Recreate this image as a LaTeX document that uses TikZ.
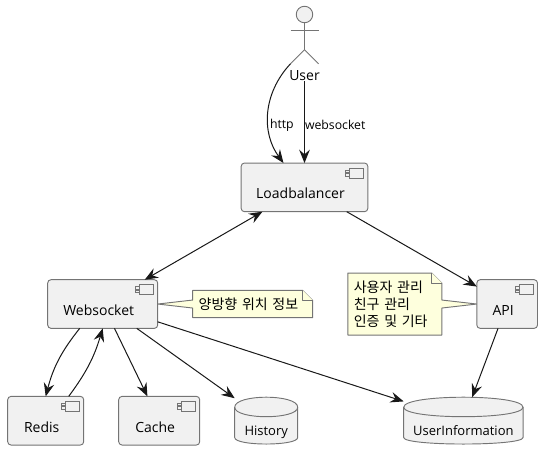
\documentclass[tikz,border=0pt]{standalone}
\usepackage{fontspec}
\setmainfont{Open Sans}
\newfontfamily\krfont{Noto Sans CJK KR}
\usepackage{tikz}
\usetikzlibrary{arrows.meta, positioning, calc, backgrounds}
\definecolor{boxfill}{HTML}{F1F1F1}
\definecolor{boxline}{HTML}{747474}
\definecolor{notefill}{HTML}{FEFFDD}
\definecolor{linkline}{HTML}{181818}

\begin{document}
\begin{tikzpicture}[
      x=0.75pt, y=-0.75pt,
      font=\fontsize{10.5}{13}\selectfont,
      every node/.style={outer sep=0pt},
      outline/.style={draw=boxline, line width=0.7pt},
      comp/.style={rectangle, outline, fill=boxfill, rounded corners=2.5pt, inner sep=0pt, minimum height=36.5pt,
        text height=17pt, text depth=0pt, execute at end node={\kern6pt}},
      store/.style={rectangle, inner sep=0pt, minimum height=35.25pt,
        font=\fontsize{9.75}{12}\selectfont, text height=22.5pt, text depth=0pt,
        append after command={\pgfextra{
          \draw[outline, fill=boxfill]
            ([yshift=-7.5pt]\tikzlastnode.north west)
              .. controls ([yshift=2.5pt]\tikzlastnode.north west) and ([yshift=2.5pt]\tikzlastnode.north east)
              .. ([yshift=-7.5pt]\tikzlastnode.north east)
              -- ([yshift=5pt]\tikzlastnode.south east)
              .. controls ([yshift=-1.5pt]\tikzlastnode.south east) and ([yshift=-1.5pt]\tikzlastnode.south west)
              .. ([yshift=5pt]\tikzlastnode.south west) -- cycle;
          \draw[outline]
            ([yshift=-7.5pt]\tikzlastnode.north west)
              .. controls ([yshift=-17pt]\tikzlastnode.north west) and ([yshift=-17pt]\tikzlastnode.north east)
              .. ([yshift=-7.5pt]\tikzlastnode.north east);
        }}},
      notetext/.style={rectangle, inner ysep=0pt, inner xsep=4.5pt, align=left, font=\krfont\fontsize{10.5}{12.75}\selectfont},
      notebody/.style={outline, fill=notefill, line join=round},
      icon/.style={draw=boxline, line width=0.6pt},
      arrow/.style={-{Stealth[length=10pt, width=8pt, inset=3.5pt]}, draw=linkline, line width=0.75pt},
      twoway/.style={{Stealth[length=10pt, width=8pt, inset=3.5pt]}-{Stealth[length=10pt, width=8pt, inset=3.5pt]}, draw=linkline, line width=0.75pt},
      edgelabel/.style={font=\fontsize{9.2}{11}\selectfont, inner sep=0pt}
    ]

    \useasboundingbox (0,0) rectangle (542,460);

    % Actor
    \node[circle, outline, fill=boxfill, minimum size=12.4pt, inner sep=0pt] (user) at (304.5,14.5) {};
    \draw[outline] (user.south) -- ++(0,27) coordinate (hip);
    \draw[outline] ($(user.south)+(-14,7.5)$) -- ($(user.south)+(14,7.5)$);
    \draw[outline] (hip) -- ++(-14,14) coordinate (footleft);
    \draw[outline] (hip) -- ++(14,14);
    \node[inner sep=0pt, below=36pt of user] (userlabel) {User};

    % Row 1
    \node[comp, minimum width=95pt, below=105.2pt of user] (lb) {Loadbalancer};

    % Row 2
    \node[comp, minimum width=82.5pt, below left=51pt and 62.6pt of lb] (ws) {Websocket};
    \node[comp, minimum width=45.5pt, below right=51pt and 81.75pt of lb] (api) {API};
    \node[notetext, text width=81pt, minimum height=20.5pt, right=26.25pt of ws] (wsnote) {양방향 위치 정보};
    \node[notetext, text width=61.5pt, minimum height=46.5pt, left=26.25pt of api] (apinote) {사용자 관리\\친구 관리\\인증 및 기타};

    % Row 3
    \node[comp, minimum width=57pt, below=51pt of ws, xshift=-42.75pt] (redis) {Redis};
    \node[comp, minimum width=60.75pt, right=26.25pt of redis] (cache) {Cache};
    \node[store, minimum width=47.25pt, right=26.25pt of cache] (history) {History};
    \node[store, minimum width=89.5pt, right=79.5pt of history] (userinfo) {UserInformation};

    % Component icons
    \foreach \comp in {lb,ws,api,redis,cache} {
      \draw[icon, shift={(\comp.north east)}]
        (-18,5) rectangle (-4.5,15)
        (-22,7) rectangle (-18,9.5)
        (-22,10.5) rectangle (-18,13);
    }

    % Note outlines
    \begin{pgfonlayer}{background}
    \draw[notebody] (wsnote.north west) -- ([xshift=-7.5pt]wsnote.north east) -- ([yshift=-7.5pt]wsnote.north east)
      -- (wsnote.south east) -- (wsnote.south west) -- ([yshift=-3pt]wsnote.west) -- (ws.east) -- ([yshift=3pt]wsnote.west) -- cycle;
    \draw[notebody] ([xshift=-7.5pt]wsnote.north east) -- ([xshift=-7.5pt,yshift=-7.5pt]wsnote.north east) -- ([yshift=-7.5pt]wsnote.north east);
    \draw[notebody] (apinote.north west) -- ([xshift=-7.5pt]apinote.north east) -- ([yshift=-7.5pt]apinote.north east)
      -- ([yshift=3pt]apinote.east) -- (api.west) -- ([yshift=-3pt]apinote.east) -- (apinote.south east) -- (apinote.south west) -- cycle;
    \draw[notebody] ([xshift=-7.5pt]apinote.north east) -- ([xshift=-7.5pt,yshift=-7.5pt]apinote.north east) -- ([yshift=-7.5pt]apinote.north east);
    \end{pgfonlayer}

    % Links from the actor
    \draw[arrow] (footleft) .. controls +(-28,30) and +(-22,-30) .. ($(lb.north)+(-21,0)$);
    \draw[arrow] (userlabel.south) -- (lb.north);
    \node[edgelabel, anchor=west] (httplabel) at (270,125) {http};
    \node[edgelabel, anchor=west] (wslabel) at (305,125) {websocket};

    % Main links
    \draw[twoway] (lb) -- (ws);
    \draw[arrow] (lb) -- (api);
    \draw[arrow] ($(ws.south)+(-23,0)$) to[bend right=12] (redis.north);
    \draw[arrow] ($(redis.north)+(23,0)$) to[bend right=10] (ws.south);
    \draw[arrow] (ws) -- (cache);
    \draw[arrow] (ws) -- (history);
    \draw[arrow] (ws) -- (userinfo);
    \draw[arrow] (api) -- (userinfo);

\end{tikzpicture}
\end{document}
